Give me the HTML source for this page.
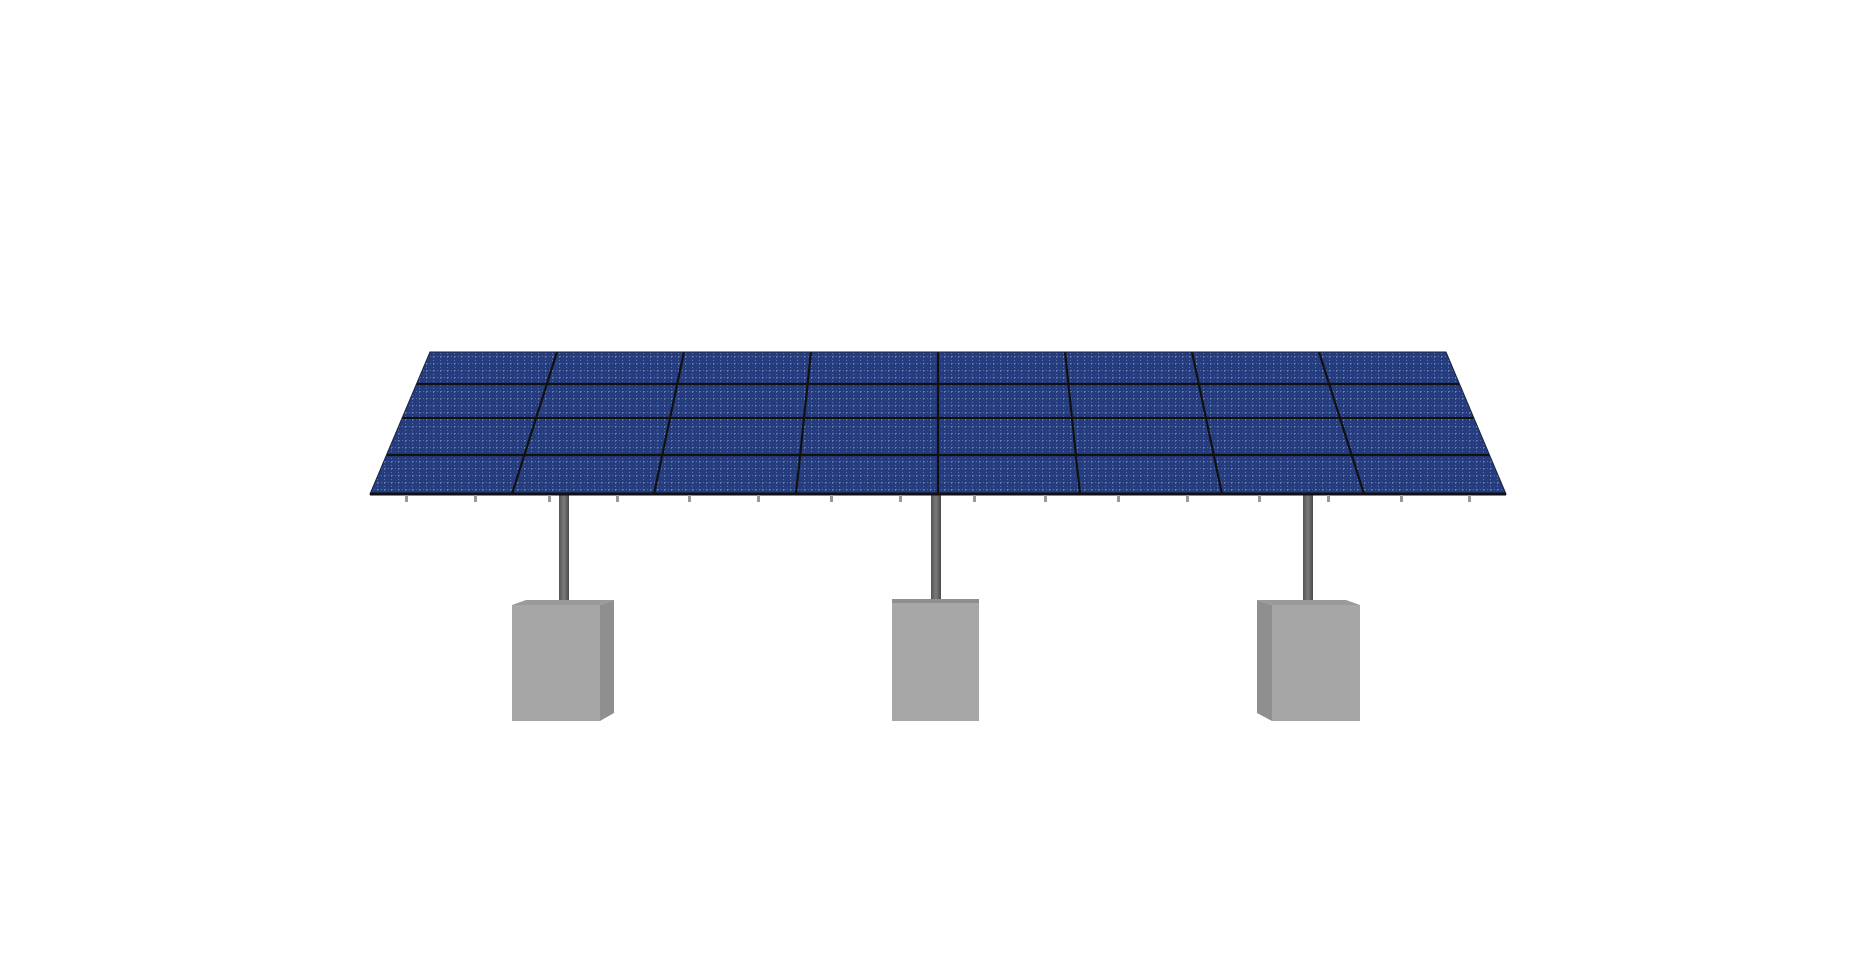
<!DOCTYPE html>
<html><head><meta charset="utf-8"><style>html,body{margin:0;padding:0;background:#fff;}svg{display:block}</style></head>
<body>
<svg width="1872" height="958" viewBox="0 0 1872 958" xmlns="http://www.w3.org/2000/svg">
<defs>
<pattern id="cells" width="7" height="7" patternUnits="userSpaceOnUse">
<rect width="7" height="7" fill="#253d7e"/>
<line x1="0" y1="6.5" x2="7" y2="6.5" stroke="#6f80b0" stroke-width="0.8" stroke-dasharray="1 2"/>
<line x1="6.5" y1="0" x2="6.5" y2="7" stroke="#6f80b0" stroke-width="0.8" stroke-dasharray="1 2"/>
</pattern>
<linearGradient id="pole" x1="0" x2="1" y1="0" y2="0">
<stop offset="0" stop-color="#555"/><stop offset="0.5" stop-color="#7a7a7a"/><stop offset="1" stop-color="#4a4a4a"/>
</linearGradient>
</defs>
<!-- poles -->
<rect x="559" y="494" width="10" height="110" fill="url(#pole)"/>
<rect x="931" y="494" width="10" height="108" fill="url(#pole)"/>
<rect x="1303" y="494" width="10" height="110" fill="url(#pole)"/>
<!-- panel -->
<polygon points="430,352 1446,352 1506,494 370,494" fill="url(#cells)"/>
<g stroke="#111" stroke-width="2.2">
<line x1="416.5" y1="384" x2="1459.5" y2="384"/>
<line x1="402.1" y1="418" x2="1473.9" y2="418"/>
<line x1="386.5" y1="455" x2="1489.5" y2="455"/>
<line x1="557" y1="352" x2="512" y2="494"/>
<line x1="684" y1="352" x2="654" y2="494"/>
<line x1="811" y1="352" x2="796" y2="494"/>
<line x1="938" y1="352" x2="938" y2="494"/>
<line x1="1065" y1="352" x2="1080" y2="494"/>
<line x1="1192" y1="352" x2="1222" y2="494"/>
<line x1="1319" y1="352" x2="1364" y2="494"/>
</g>
<polygon points="430,352 1446,352 1506,494 370,494" fill="none" stroke="#1a2240" stroke-width="1"/>
<line x1="370" y1="494" x2="1506" y2="494" stroke="#111" stroke-width="3"/>
<!-- clips -->
<g fill="#999">
<rect x="405" y="495" width="3" height="7"/><rect x="474" y="495" width="3" height="7"/>
<rect x="548" y="495" width="3" height="7"/><rect x="616" y="495" width="3" height="7"/>
<rect x="688" y="495" width="3" height="7"/><rect x="757" y="495" width="3" height="7"/>
<rect x="830" y="495" width="3" height="7"/><rect x="899" y="495" width="3" height="7"/>
<rect x="973" y="495" width="3" height="7"/><rect x="1044" y="495" width="3" height="7"/>
<rect x="1117" y="495" width="3" height="7"/><rect x="1186" y="495" width="3" height="7"/>
<rect x="1258" y="495" width="3" height="7"/><rect x="1327" y="495" width="3" height="7"/>
<rect x="1400" y="495" width="3" height="7"/><rect x="1468" y="495" width="3" height="7"/>
</g>
<!-- blocks -->
<polygon points="600,605 614,600 614,713 600,721" fill="#8f8f8f"/>
<polygon points="512,605 526,600 614,600 600,605" fill="#9a9a9a"/>
<rect x="512" y="605" width="88" height="116" fill="#a6a6a6"/>
<rect x="892" y="601" width="87" height="120" fill="#a7a7a7"/>
<rect x="892" y="599" width="87" height="4" fill="#8e8e8e"/>
<polygon points="1257,600 1272,605 1272,721 1257,713" fill="#8f8f8f"/>
<polygon points="1257,600 1346,600 1360,605 1272,605" fill="#9a9a9a"/>
<rect x="1272" y="605" width="88" height="116" fill="#a6a6a6"/>
</svg>
</body></html>
